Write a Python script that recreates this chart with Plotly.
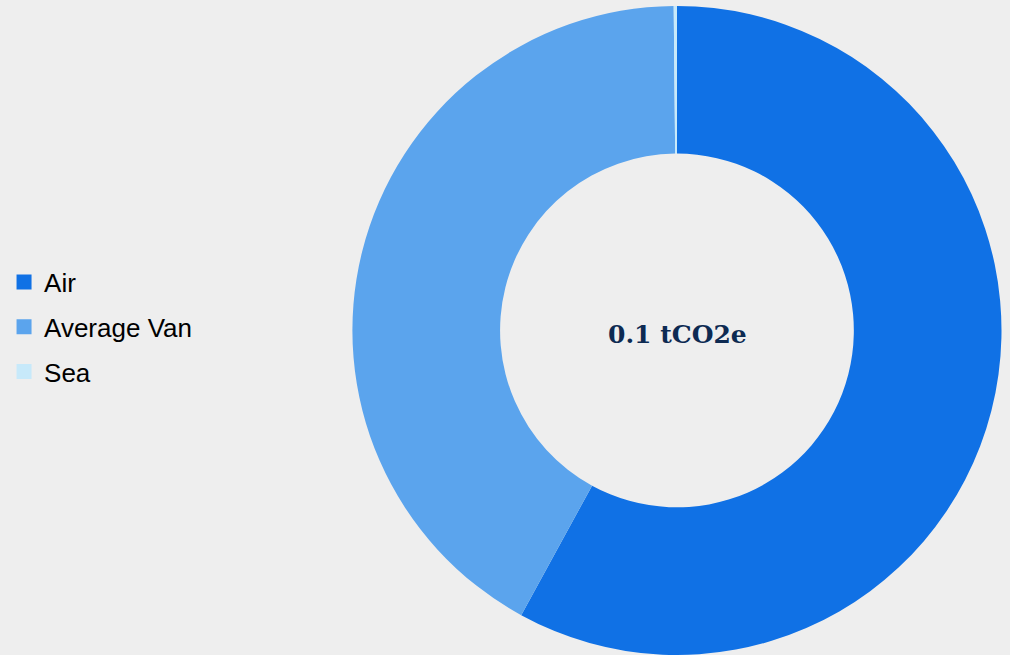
import plotly.graph_objects as go

# Emissions by transport mode (tCO2e)
modes = ["Air", "Average Van", "Sea"]
emissions = [0.0580, 0.0419, 0.00016]
colors = ["#1071E5", "#5BA4ED", "#C7E9FA"]
total_label = "0.1 tCO2e"

fig = go.Figure()

fig.add_trace(go.Pie(
    labels=modes,
    values=emissions,
    hole=0.545,
    sort=False,
    direction="clockwise",
    rotation=0,
    marker=dict(colors=colors, line=dict(width=0)),
    textinfo="none",
    hoverinfo="label+value",
    showlegend=False,
    domain=dict(x=[0.3485, 0.992], y=[0.0, 0.991]),
))

# Legend entries as separate groups so the rows can be spaced apart
for name, col in zip(modes, colors):
    fig.add_trace(go.Scatter(
        x=[None], y=[None], mode="markers", name=name, legendgroup=name,
        marker=dict(symbol="square", size=15, color=col),
        hoverinfo="skip",
    ))

fig.add_annotation(
    text="<b>" + total_label + "</b>",
    x=677 / 1010, y=1 - 334 / 655, xref="paper", yref="paper",
    xanchor="center", yanchor="middle",
    showarrow=False,
    font=dict(family="DejaVu Serif", size=25, color="#0D2A52"),
)

fig.update_layout(
    width=1010, height=655,
    margin=dict(l=0, r=0, t=0, b=0),
    paper_bgcolor="#EEEEEE",
    plot_bgcolor="#EEEEEE",
    xaxis=dict(visible=False),
    yaxis=dict(visible=False),
    legend=dict(
        x=0.004, y=1 - 327 / 655, xanchor="left", yanchor="middle",
        traceorder="grouped", tracegroupgap=8,
        font=dict(family="Liberation Sans", size=26, color="#000000"),
        itemwidth=30,
        bgcolor="rgba(0,0,0,0)",
    ),
)

fig.write_html("out.html")
